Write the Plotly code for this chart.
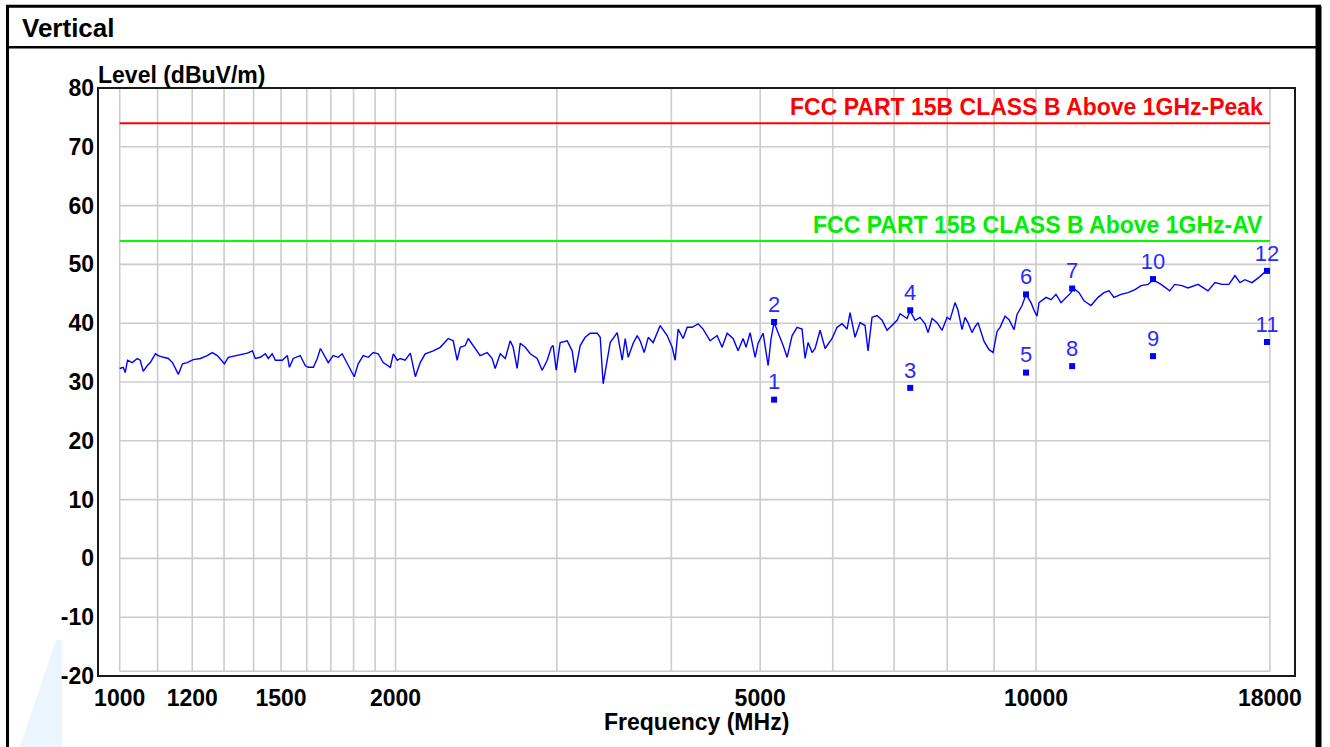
import math
import plotly.graph_objects as go

# ---------------- data ----------------
FREQ_MHZ = [
    1000, 1009, 1014, 1020, 1032, 1045, 1053, 1061, 1072, 1080, 1094, 1102, 1116, 1130, 1142,
    1159, 1171, 1185, 1203, 1225, 1246, 1262, 1278, 1301, 1314, 1344, 1378, 1396, 1406, 1424,
    1442, 1453, 1467, 1479, 1505, 1524, 1532, 1547, 1574, 1594, 1606, 1627, 1643, 1656, 1668,
    1689, 1710, 1732, 1749, 1772, 1785, 1803, 1821, 1844, 1868, 1891, 1915, 1939, 1974, 1989,
    2009, 2024, 2049, 2076, 2102, 2128, 2155, 2199, 2238, 2283, 2312, 2335, 2353, 2383, 2401,
    2431, 2474, 2518, 2550, 2569, 2602, 2635, 2668, 2688, 2715,
    2736, 2771, 2806, 2855, 2891, 2928, 2958, 2972, 2995, 3025, 3079, 3118, 3141, 3181, 3221,
    3262, 3320, 3345, 3370, 3396, 3430, 3491, 3535, 3562, 3589, 3634, 3671, 3698, 3736, 3774,
    3821, 3889, 3958, 4008, 4038, 4069, 4120, 4162, 4214, 4278, 4332, 4409, 4487, 4544, 4602,
    4671, 4730, 4790, 4826, 4875, 4937, 4974, 5037, 5101, 5139, 5178, 5231, 5297, 5350, 5418,
    5486, 5555, 5597, 5640, 5697, 5740, 5812, 5886, 5990, 6066, 6143, 6220, 6267, 6346, 6427,
    6508, 6557, 6623, 6707, 6792, 6878, 6965, 7053, 7106, 7232, 7287, 7379, 7472, 7567, 7624,
    7701, 7798, 7897, 7997,
    8057, 8159, 8220, 8303, 8366, 8429, 8514, 8579, 8644, 8776, 8887, 8977, 9067, 9136, 9251,
    9345, 9463, 9534, 9655, 9752, 9875, 9950, 10025, 10076, 10255, 10384, 10515, 10648, 10783,
    10919, 10974, 11141, 11282, 11482, 11686, 11864, 12013, 12165, 12381, 12601, 12824, 13019,
    13250, 13417, 13690, 13993, 14170, 14431, 14650, 15023, 15405, 15678, 15956, 16239, 16486,
    16694, 16905, 17205, 17510, 17866, 18000,
]
LEVEL_DBUV = [
    32.3, 32.5, 31.6, 33.7, 33.3, 34.0, 33.7, 31.8, 32.8, 33.3, 34.8, 34.5, 34.2, 34.0, 33.3,
    31.3, 33.1, 33.3, 33.8, 34.0, 34.5, 35.0, 34.5, 33.1, 34.2, 34.5, 34.9, 35.3, 34.0, 34.2,
    34.8, 34.0, 34.8, 33.7, 33.7, 34.5, 32.5, 34.0, 34.5, 32.8, 32.5, 32.5, 34.0, 35.7, 34.8,
    33.3, 34.5, 34.2, 34.8, 33.1, 32.0, 30.9, 33.1, 34.5, 34.2, 35.0, 34.8, 33.3, 32.5, 34.8,
    33.7, 34.0, 33.7, 34.9, 30.9, 33.3, 34.8, 35.3, 35.9, 37.4, 37.0, 33.7, 35.9, 36.2, 37.4,
    36.2, 34.5, 35.0, 34.0, 32.3, 34.8, 34.0, 37.0, 35.9, 32.3,
    36.6, 35.9, 34.8, 34.0, 32.0, 33.7, 35.9, 36.2, 32.0, 36.7, 37.0, 35.3, 31.6, 36.2, 37.6,
    38.3, 38.3, 37.6, 29.7, 32.5, 36.7, 38.4, 33.7, 37.4, 34.2, 36.6, 37.9, 37.0, 35.0, 37.6,
    36.7, 39.6, 37.9, 35.9, 33.7, 39.0, 37.4, 39.3, 39.3, 39.9, 39.0, 37.0, 37.9, 35.9, 38.3,
    37.4, 35.3, 37.4, 35.9, 38.4, 34.2, 36.6, 38.3, 32.8, 37.4, 40.1, 38.4, 36.2, 34.2, 37.9,
    39.3, 39.0, 34.0, 36.7, 35.0, 35.7, 38.8, 35.7, 37.4, 39.3, 39.9, 39.0, 41.8, 37.6, 40.1,
    39.6, 35.3, 41.0, 41.3, 40.5, 38.8, 39.6, 40.5, 41.6, 40.8, 42.1, 40.5, 41.0, 39.9, 38.4,
    40.8, 40.1, 38.8, 41.0,
    40.6, 43.5, 42.2, 38.9, 41.0, 40.1, 38.4, 39.4, 40.1, 36.9, 35.5, 35.0, 38.6, 39.3, 41.2,
    40.6, 38.9, 41.5, 43.0, 44.9, 43.5, 42.2, 41.2, 43.5, 44.4, 44.0, 44.9, 43.5, 44.4,
    45.2, 46.0, 45.2, 43.8, 43.0, 44.4, 45.2, 45.5, 44.4, 44.9, 45.2, 45.7, 46.4,
    46.6, 47.4, 46.6, 45.5, 46.6, 46.4, 46.0, 46.6, 45.5, 46.9, 46.6, 46.6, 48.1,
    46.9, 47.4, 46.9, 47.8, 49.0, 49.0,
]

MARK_NO = [1, 2, 3, 4, 5, 6, 7, 8, 9, 10, 11, 12]
MARK_FREQ = [5178, 5178, 7290, 7290, 9752, 9752, 10950, 10950, 13417, 13417, 17866, 17866]
MARK_LEVEL = [27.0, 40.2, 29.0, 42.2, 31.6, 44.9, 45.9, 32.7, 34.4, 47.5, 36.8, 48.9]

LIMIT_FREQ = [1000, 18000]
PEAK_LIMIT = 74
AV_LIMIT = 54
PEAK_NAME = "FCC PART 15B CLASS B Above 1GHz-Peak"
AV_NAME = "FCC PART 15B CLASS B Above 1GHz-AV"

X_GRID = [1000, 1100, 1200, 1300, 1400, 1500, 1600, 1700, 1800, 1900, 2000,
          3000, 4000, 5000, 6000, 7000, 8000, 9000, 10000, 18000]
X_TICKS = [1000, 1200, 1500, 2000, 5000, 10000, 18000]
X_TICK_TEXT = ["1000", "1200", "1500", "2000", "5000", "10000", "18000"]
Y_TICKS = [80, 70, 60, 50, 40, 30, 20, 10, 0, -10, -20]
Y_TICK_TEXT = ["80", "70", "60", "50", "40", "30", "20", "10", "0", "-10", "-20"]

X_RANGE = [947, 19170]
Y_RANGE = [-20, 80]
GRID_BOTTOM = -19.2

# ---------------- style ----------------
FONT = "Liberation Sans, Arial, sans-serif"
BLUE = "#0000ff"
GRID = "#cccccc"

fig = go.Figure()

# grid lines
gx, gy = [], []
for v in X_GRID:
    gx += [v, v, None]
    gy += [GRID_BOTTOM, Y_RANGE[1], None]
for v in Y_TICKS:
    if Y_RANGE[0] < v < Y_RANGE[1]:
        gx += [X_GRID[0], X_GRID[-1], None]
        gy += [v, v, None]
gx += [X_GRID[0], X_GRID[-1], None]
gy += [GRID_BOTTOM, GRID_BOTTOM, None]
fig.add_trace(go.Scatter(x=gx, y=gy, mode="lines", line=dict(color=GRID, width=1.6),
                         hoverinfo="skip", showlegend=False))

# limit lines
fig.add_trace(go.Scatter(x=LIMIT_FREQ, y=[PEAK_LIMIT] * 2, mode="lines",
                         line=dict(color="#ff0000", width=2), showlegend=False))
fig.add_trace(go.Scatter(x=LIMIT_FREQ, y=[AV_LIMIT] * 2, mode="lines",
                         line=dict(color="#00ff00", width=2), showlegend=False))

# measurement trace
fig.add_trace(go.Scatter(x=FREQ_MHZ, y=LEVEL_DBUV, mode="lines",
                         line=dict(color=BLUE, width=1.4), showlegend=False))

# markers
fig.add_trace(go.Scatter(x=MARK_FREQ, y=MARK_LEVEL, mode="markers+text",
                         marker=dict(symbol="square", size=6, color=BLUE),
                         text=[str(n) for n in MARK_NO], textposition="top center",
                         textfont=dict(family=FONT, size=22, color="#2a2aff"),
                         showlegend=False))

ann = []
ann.append(dict(x=math.log10(LIMIT_FREQ[1]), y=PEAK_LIMIT, xref="x", yref="y",
                text=PEAK_NAME, showarrow=False, xanchor="right", yanchor="bottom",
                xshift=-5, yshift=1,
                font=dict(family=FONT, size=23, color="#ff0000", weight="bold")))
ann.append(dict(x=math.log10(LIMIT_FREQ[1]), y=AV_LIMIT, xref="x", yref="y",
                text=AV_NAME, showarrow=False, xanchor="right", yanchor="bottom",
                xshift=-5, yshift=1,
                font=dict(family=FONT, size=23, color="#00ee00", weight="bold")))
ann.append(dict(x=0, y=1, xref="paper", yref="paper", text="Level (dBuV/m)",
                showarrow=False, xanchor="left", yanchor="bottom", xshift=-2, yshift=-2,
                font=dict(family=FONT, size=23, color="#000000", weight="bold")))
ann.append(dict(x=0.5, y=0, xref="paper", yref="paper", text="Frequency (MHz)",
                showarrow=False, xanchor="center", yanchor="middle", yshift=-46,
                font=dict(family=FONT, size=23, color="#000000", weight="bold")))
ann.append(dict(x=0, y=1, xref="paper", yref="paper", text="Vertical",
                showarrow=False, xanchor="left", yanchor="middle", xshift=-78, yshift=60,
                font=dict(family=FONT, size=26, color="#000000", weight="bold")))

# decorative frames (paper coords relative to plot area 98..1295 x 88..676)
def px_x(p):
    return (p - 98) / 1197.0

def px_y(p):
    return (676 - p) / 588.0

wm = [(20, 747), (56, 640), (62, 640), (62, 747)]
wm_path = "M " + " L ".join(f"{px_x(a):.4f},{px_y(b):.4f}" for a, b in wm) + " Z"

shapes = [
    dict(type="path", xref="paper", yref="paper", path=wm_path,
         fillcolor="#eaf5fd", line=dict(width=0), layer="below"),
    dict(type="rect", xref="paper", yref="paper", x0=0, x1=1, y0=0, y1=1,
         line=dict(color="#1a1a1a", width=2)),
    dict(type="line", xref="paper", yref="paper", x0=px_x(7.5), x1=px_x(7.5),
         y0=px_y(6), y1=px_y(800), line=dict(color="#000000", width=3)),
    dict(type="line", xref="paper", yref="paper", x0=px_x(1318.5), x1=px_x(1318.5),
         y0=px_y(6), y1=px_y(800), line=dict(color="#000000", width=6)),
    dict(type="line", xref="paper", yref="paper", x0=px_x(6), x1=px_x(1321),
         y0=px_y(6.3), y1=px_y(6.3), line=dict(color="#000000", width=3)),
    dict(type="line", xref="paper", yref="paper", x0=px_x(6), x1=px_x(1321),
         y0=px_y(47.3), y1=px_y(47.3), line=dict(color="#000000", width=2.5)),
]

fig.update_layout(
    width=1330, height=747, autosize=False,
    margin=dict(l=98, r=35, t=88, b=71, pad=0),
    paper_bgcolor="#ffffff", plot_bgcolor="#ffffff",
    showlegend=False,
    annotations=ann, shapes=shapes,
    xaxis=dict(type="log", range=[math.log10(X_RANGE[0]), math.log10(X_RANGE[1])],
               tickvals=X_TICKS, ticktext=X_TICK_TEXT, showgrid=False, zeroline=False,
               showline=False, ticks="", ticklabelstandoff=6,
               tickfont=dict(family=FONT, size=23, color="#000000", weight="bold")),
    yaxis=dict(range=Y_RANGE, tickvals=Y_TICKS, ticktext=Y_TICK_TEXT, showgrid=False,
               zeroline=False, showline=False, ticks="", ticklabelstandoff=3,
               tickfont=dict(family=FONT, size=23, color="#000000", weight="bold")),
)

fig.write_html("out.html", config={"displayModeBar": False},
               post_script="document.body.style.margin='0px';")
